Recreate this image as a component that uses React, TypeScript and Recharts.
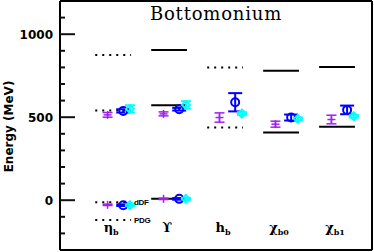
import {
  ComposedChart,
  XAxis,
  YAxis,
  Scatter,
  ErrorBar,
  ReferenceLine,
  ReferenceDot,
} from 'recharts';

// categories along the x axis (1..5)
const categories = ['η', 'ϒ', 'h', 'χ', 'χ'];
const subscripts = ['b', '', 'b', 'b0', 'b1'];

const yTicks = [-200, -100, 0, 100, 200, 300, 400, 500, 600, 700, 800, 900, 1000, 1100];
const yLabels = [0, 500, 1000];

// experimental / reference levels (MeV)
const solidLevels = [
  { cat: 2, e: 905 },
  { cat: 2, e: 572 },
  { cat: 2, e: 8 },
  { cat: 4, e: 780 },
  { cat: 4, e: 408 },
  { cat: 5, e: 802 },
  { cat: 5, e: 442 },
];
const dottedLevels = [
  { cat: 1, e: 875 },
  { cat: 1, e: 540 },
  { cat: 1, e: -12 },
  { cat: 1, e: -120 },
  { cat: 3, e: 800 },
  { cat: 3, e: 438 },
];
const levelTags = [
  { cat: 1, e: -12, tag: 'dDF' },
  { cat: 1, e: -120, tag: 'PDG' },
];

// lattice results with errors
const purplePts = [
  { cat: 1, e: 514, err: 14 },
  { cat: 1, e: -28, err: 4 },
  { cat: 2, e: 520, err: 12 },
  { cat: 2, e: 8, err: 4 },
  { cat: 3, e: 498, err: 28 },
  { cat: 4, e: 458, err: 18 },
  { cat: 5, e: 486, err: 26 },
];
const bluePts = [
  { cat: 1, e: 538, err: 10 },
  { cat: 1, e: -30, err: 5 },
  { cat: 2, e: 548, err: 8 },
  { cat: 2, e: 8, err: 5 },
  { cat: 3, e: 590, err: 55 },
  { cat: 4, e: 498, err: 18 },
  { cat: 5, e: 544, err: 26 },
];
const cyanPts = [
  { cat: 1, e: 550, err: 22 },
  { cat: 1, e: -30, err: 5 },
  { cat: 2, e: 574, err: 22 },
  { cat: 2, e: 8, err: 5 },
  { cat: 3, e: 522, err: 8 },
  { cat: 4, e: 490, err: 8 },
  { cat: 5, e: 506, err: 8 },
];

const PURPLE = '#a020f0';
const BLUE = '#0000ff';
const CYAN = '#00ffff';
const HALF = 0.32;
const X_DOMAIN = [0.05, 5.625];
const Y_DOMAIN = [-300, 1200];
const FRAME = { stroke: '#000', strokeWidth: 2 };

const toPoints = (list: { cat: number; e: number; err: number }[], offset: number) =>
  list.map((p) => ({ x: p.cat + offset, y: p.e, err: p.err }));

const PlusShape = (props: any) => {
  const { cx, cy } = props;
  return (
    <g>
      <line x1={cx - 4} x2={cx + 4} y1={cy} y2={cy} stroke={PURPLE} strokeWidth={1.5} />
      <line x1={cx} x2={cx} y1={cy - 4} y2={cy + 4} stroke={PURPLE} strokeWidth={1.5} />
    </g>
  );
};

const CircleShape = (props: any) => (
  <circle cx={props.cx} cy={props.cy} r={4} fill="none" stroke={BLUE} strokeWidth={2} />
);

const DiamondShape = (props: any) => {
  const { cx, cy } = props;
  return (
    <polygon
      points={`${cx},${cy - 4} ${cx + 4},${cy} ${cx},${cy + 4} ${cx - 4},${cy}`}
      fill="none"
      stroke={CYAN}
      strokeWidth={2}
    />
  );
};

// frame tick marks: drawn as a path pointing into the plot
const LeftTick = (props: any) => {
  const { x, y, payload } = props;
  const major = yLabels.includes(payload.value);
  return (
    <g>
      <path d={`M${x},${y}h${major ? 15 : 5}`} stroke="#111" strokeWidth={2} fill="none" />
      {major && (
        <text
          x={x - 7}
          y={y + 4.5}
          textAnchor="end"
          fontFamily="DejaVu Sans"
          fontWeight="bold"
          fontSize={12}
          fill="#000"
        >
          {payload.value}
        </text>
      )}
    </g>
  );
};

const RightTick = (props: any) => {
  const { x, y, payload } = props;
  const major = yLabels.includes(payload.value);
  return <path d={`M${x},${y}h-${major ? 15 : 5}`} stroke="#111" strokeWidth={2} fill="none" />;
};

const CategoryTick = (props: any) => {
  const { x, y, payload } = props;
  const i = payload.value - 1;
  return (
    <text
      x={x - 2}
      y={y - 18}
      textAnchor="middle"
      fontFamily="DejaVu Serif"
      fontWeight="bold"
      fontSize={13}
      fill="#000"
    >
      {categories[i]}
      {subscripts[i] && (
        <tspan fontSize={8} dy={3}>
          {subscripts[i]}
        </tspan>
      )}
    </text>
  );
};

export default function App() {
  return (
    <div style={{ position: 'absolute', left: 0, top: 0, width: 374, height: 252, background: '#fff' }}>
      <ComposedChart width={374} height={252} margin={{ top: 0, right: 1, bottom: 1, left: 0 }}>
        <XAxis
          type="number"
          dataKey="x"
          domain={X_DOMAIN}
          ticks={[1, 2, 3, 4, 5]}
          interval={0}
          height={1}
          axisLine={FRAME}
          tickLine={false}
          tickSize={0}
          tickMargin={0}
          tick={<CategoryTick />}
        />
        <XAxis
          xAxisId="top"
          orientation="top"
          type="number"
          domain={X_DOMAIN}
          height={1}
          axisLine={FRAME}
          tickLine={false}
          tick={false}
          label={{
            content: (p: any) => {
              const vb = p.viewBox;
              return (
                <text
                  x={vb.x + vb.width / 2}
                  y={20}
                  textAnchor="middle"
                  fontFamily="DejaVu Serif"
                  fontSize={18}
                  letterSpacing={0.8}
                  fill="#000"
                >
                  Bottomonium
                </text>
              );
            },
          }}
        />
        <YAxis
          yAxisId="l"
          type="number"
          domain={Y_DOMAIN}
          ticks={yTicks}
          interval={0}
          width={60}
          axisLine={FRAME}
          tickSize={0}
          tickMargin={0}
          tick={<LeftTick />}
          label={{
            content: (p: any) => {
              const vb = p.viewBox;
              const cy = vb.y + vb.height / 2 + 1;
              return (
                <text
                  x={12.5}
                  y={cy}
                  transform={`rotate(-90, 12.5, ${cy})`}
                  textAnchor="middle"
                  fontFamily="DejaVu Sans"
                  fontWeight="bold"
                  fontSize={12}
                  fill="#000"
                >
                  Energy (MeV)
                </text>
              );
            },
          }}
        />
        <YAxis
          yAxisId="r"
          orientation="right"
          type="number"
          domain={Y_DOMAIN}
          ticks={yTicks}
          interval={0}
          width={1}
          axisLine={FRAME}
          tickSize={0}
          tickMargin={0}
          tick={<RightTick />}
        />

        {solidLevels.map((l, i) => (
          <ReferenceLine
            key={`s${i}`}
            yAxisId="l"
            segment={[
              { x: l.cat - HALF, y: l.e },
              { x: l.cat + HALF, y: l.e },
            ]}
            stroke="#000"
            strokeWidth={2}
          />
        ))}
        {dottedLevels.map((l, i) => (
          <ReferenceLine
            key={`d${i}`}
            yAxisId="l"
            segment={[
              { x: l.cat - HALF, y: l.e },
              { x: l.cat + HALF, y: l.e },
            ]}
            stroke="#000"
            strokeWidth={2}
            strokeDasharray="2 5"
          />
        ))}
        {levelTags.map((t) => (
          <ReferenceDot
            key={t.tag}
            yAxisId="l"
            x={t.cat + HALF}
            y={t.e}
            r={0.01}
            fill="none"
            stroke="none"
            label={{
              content: (p: any) => {
                const vb = p.viewBox;
                return (
                  <text
                    x={vb.x + 3}
                    y={vb.y + 3}
                    fontFamily="Liberation Sans"
                    fontWeight="bold"
                    fontSize={8}
                    letterSpacing={-0.4}
                    fill="#000"
                  >
                    {t.tag}
                  </text>
                );
              },
            }}
          />
        ))}

        <Scatter
          yAxisId="l"
          data={toPoints(purplePts, -0.1)}
          dataKey="y"
          shape={<PlusShape />}
          isAnimationActive={false}
        >
          <ErrorBar dataKey="err" direction="y" width={5} stroke={PURPLE} strokeWidth={1.5} />
        </Scatter>
        <Scatter
          yAxisId="l"
          data={toPoints(bluePts, 0.18)}
          dataKey="y"
          shape={<CircleShape />}
          isAnimationActive={false}
        >
          <ErrorBar dataKey="err" direction="y" width={7} stroke={BLUE} strokeWidth={2} />
        </Scatter>
        <Scatter
          yAxisId="l"
          data={toPoints(cyanPts, 0.3)}
          dataKey="y"
          shape={<DiamondShape />}
          isAnimationActive={false}
        >
          <ErrorBar dataKey="err" direction="y" width={5} stroke={CYAN} strokeWidth={2} />
        </Scatter>
      </ComposedChart>
    </div>
  );
}
